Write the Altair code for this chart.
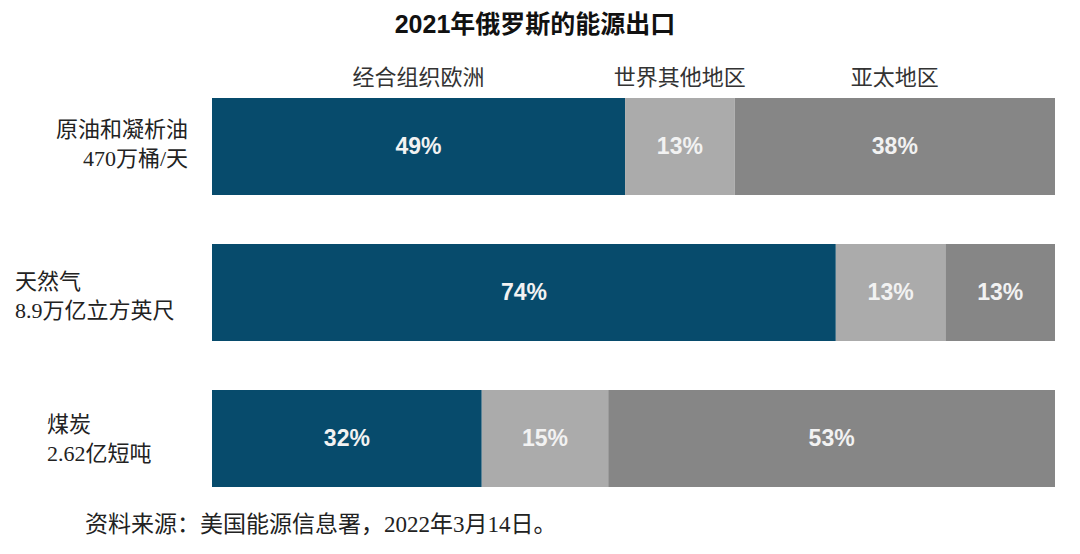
import altair as alt
import pandas as pd

# ---- data ----
energies = ["原油和凝析油", "天然气", "煤炭"]
label_line1 = ["原油和凝析油", "天然气", "煤炭"]
label_line2 = ["470万桶/天", "8.9万亿立方英尺", "2.62亿短吨"]
regions = ["经合组织欧洲", "世界其他地区", "亚太地区"]
oecd_europe = [49, 74, 32]
rest_of_world = [13, 13, 15]
asia_pacific = [38, 13, 53]
colors = ["#074B6C", "#ABABAB", "#868686"]
title_text = "2021年俄罗斯的能源出口"
source_text = "资料来源：美国能源信息署，2022年3月14日。"

rows = []
for i, e in enumerate(energies):
    for j, (r, vals) in enumerate(zip(regions, [oecd_europe, rest_of_world, asia_pacific])):
        rows.append({"energy": e, "region": r, "order": j, "value": vals[i]})
df = pd.DataFrame(rows)
ldf = pd.DataFrame({"energy": energies, "l1": label_line1, "l2": label_line2})

W, H = 843, 438
TOP = 73.5
CJK = "Liberation Serif, Noto Sans CJK SC"

yenc = alt.Y("energy:N", sort=energies, axis=None,
             scale=alt.Scale(paddingInner=0.336, paddingOuter=0.168))
xscale = alt.Scale(domain=[0, 100], nice=False, zero=True)

base = (alt.Chart(df)
        .transform_stack(stack="value", groupby=["energy"], as_=["x0", "x1"],
                         sort=[alt.SortField("order", "ascending")])
        .transform_calculate(mid="(datum.x0 + datum.x1) / 2", label="datum.value + '%'"))

bars = base.mark_bar().encode(
    x=alt.X("x0:Q", scale=xscale, axis=None),
    x2="x1:Q",
    y=yenc,
    color=alt.Color("region:N", scale=alt.Scale(domain=regions, range=colors), legend=None),
)

pct = base.mark_text(font="Liberation Sans", fontWeight="bold", fontSize=23,
                     color="#F2F2F2", baseline="middle").encode(
    x=alt.X("mid:Q", scale=xscale, axis=None), y=yenc, text="label:N")

headers = (base.transform_filter(alt.datum.energy == energies[0])
           .mark_text(font=CJK, fontSize=22, color="#333333", baseline="middle")
           .encode(x=alt.X("mid:Q", scale=xscale, axis=None), y=alt.value(4), text="region:N"))

lab_base = alt.Chart(ldf).transform_calculate(lines="[datum.l1, datum.l2]")
label_x = [(-24, "right", -17), (-197, "left", -11), (-165, "left", -14)]
labels = []
for e, (xv, al, dyv) in zip(energies, label_x):
    labels.append(
        lab_base.transform_filter(alt.datum.energy == e)
        .mark_text(font=CJK, fontSize=22, color="#222222", align=al, baseline="middle",
                   lineHeight=29, dy=dyv)
        .encode(x=alt.value(xv), y=yenc, text="lines:N")
    )

title = alt.Chart(pd.DataFrame({"t": [title_text]})).mark_text(
    font="Liberation Sans, Noto Sans CJK SC", fontSize=25, fontWeight="bold",
    color="#111111", align="center", baseline="middle"
).encode(x=alt.value(535 - 212), y=alt.value(25 - TOP), text="t:N")

source = alt.Chart(pd.DataFrame({"t": [source_text]})).mark_text(
    font=CJK, fontSize=23, color="#222222", align="left", baseline="middle"
).encode(x=alt.value(85 - 212), y=alt.value(525 - TOP), text="t:N")

chart = alt.layer(bars, pct, headers, *labels, title, source).properties(
    width=W, height=H,
    autosize=alt.AutoSizeParams(type="none"),
    padding={"left": 204, "top": 65.5, "right": 17, "bottom": 34.5},
).configure(background="white", view=alt.ViewConfig(stroke=None))

chart.save("out.html", embed_options={"renderer": "svg", "actions": False})
